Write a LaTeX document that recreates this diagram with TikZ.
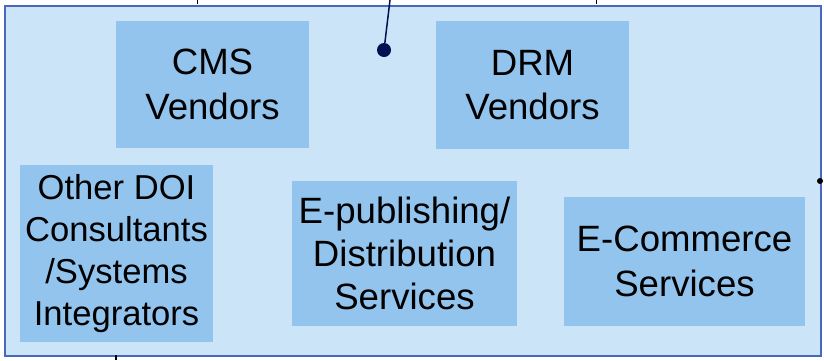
\documentclass[tikz,border=0pt]{standalone}
\usepackage{fontspec}
\setmainfont{Liberation Sans}
\definecolor{outerfill}{RGB}{204,228,247}
\definecolor{boxfill}{RGB}{146,196,238}
\definecolor{outerline}{RGB}{72,104,192}
\definecolor{navy}{RGB}{0,16,80}
\begin{document}
\begin{tikzpicture}[x=1pt,y=-1pt,
  vbox/.style={rectangle, fill=boxfill, draw=none, inner sep=0pt, align=center,
    font=\fontsize{36.6}{44.5}\selectfont},
  dotnode/.style={circle, fill=navy, inner sep=0pt, minimum size=14pt},
  smalldot/.style={circle, fill=black, inner sep=0pt, minimum size=6pt}]
\useasboundingbox (0,0) rectangle (824,360);
% outer panel
\node[rectangle, fill=outerfill, draw=outerline, line width=1.6pt, inner sep=0pt,
  minimum width=816pt, minimum height=350pt, anchor=north west] (panel) at (4,5) {};
% boxes
\node[vbox, minimum width=193pt, minimum height=127pt] (cms) at (212.5,84.5) {CMS\\Vendors};
\node[vbox, minimum width=193pt, minimum height=128pt] (drm) at (532.5,85) {DRM\\Vendors};
\node[vbox, minimum width=193pt, minimum height=177pt, font=\fontsize{34.6}{41.8}\selectfont] (doi) at (116.5,253.5) {Other DOI\\Consultants\\/Systems\\Integrators};
\node[vbox, minimum width=225pt, minimum height=145pt, font=\fontsize{36.6}{43.3}\selectfont] (epub) at (404.5,253.5) {E-publishing/\\Distribution\\Services};
\node[vbox, minimum width=241pt, minimum height=129pt] (ecom) at (684.5,261.5) {E-Commerce\\Services};
% connectors
\node[dotnode] (dot) at (384,50) {};
\coordinate (topend) at (390,0);
\draw[navy, line width=1.5pt] (topend) -- (dot);
\coordinate (t1a) at (197,0); \coordinate (t1b) at (197,4);
\coordinate (t2a) at (596,0); \coordinate (t2b) at (596,4);
\draw[black, line width=0.8pt] (t1a) -- (t1b);
\draw[black, line width=0.8pt] (t2a) -- (t2b);
\coordinate (b1a) at (116,355); \coordinate (b1b) at (116,360);
\draw[black, line width=1.2pt] (b1a) -- (b1b);
\node[smalldot] (rdot) at (820,181) {};
\end{tikzpicture}
\end{document}
